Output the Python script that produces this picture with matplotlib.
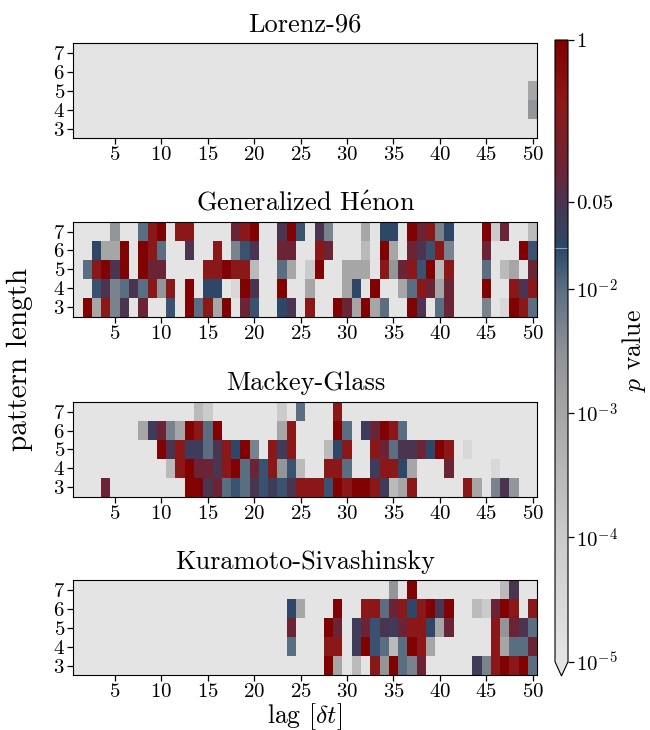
import numpy as np
import matplotlib
matplotlib.use("Agg")
import matplotlib.pyplot as plt
from matplotlib.colors import LinearSegmentedColormap, LogNorm

plt.rcParams["font.family"] = "cmr10"
plt.rcParams["mathtext.fontset"] = "cm"
plt.rcParams["axes.formatter.use_mathtext"] = True

lags = np.arange(1, 51)
pattern_lengths = [3, 4, 5, 6, 7]

# colour codes -> p value ('.' is below 1e-5)
p_levels = {
    ".": 1e-6, "v": 3e-5, "l": 1e-4, "k": 3e-4, "g": 1e-3, "G": 2.5e-3,
    "q": 5e-3, "s": 1e-2, "b": 1.7e-2, "B": 2.2e-2, "n": 3.5e-2,
    "p": 0.05, "m": 0.09, "r": 0.3, "R": 0.9,
}

# one string per pattern length, from 7 (top) down to 3, lag 1..50
lorenz_rows = [
    "." * 50,
    "." * 50,
    "." * 49 + "g",
    "." * 49 + "G",
    "." * 50,
]
henon_rows = [
    "....G..srR.rr....mrR..pRb" + ".pq...g.BB.RmrqB...Rlm..k",
    "..BggR.Rrs..p..r.qbp..mm." + ".rm...k.Rg.mpbrq...m...Rb",
    ".srRpR.Rmm....rrRrrk..sg." + "lR..ggg.rGmrbRkr...s.kg.m",
    "..bpqspsrGr.R.BB.vRp..R.." + "g...gB.R..gsrmgm...R..rpr",
    ".Rgrqp.m..b.RsrgR.mb..Bp." + "r..RmgRgs..Rp.sm...q.vRrs",
]
mackey_rows = [
    ".............kl.......l.s" + "...r.....................",
    ".......gnmqgRrsR......gr." + "...Rs.nmRrs..............",
    ".........RprnnsprBRq.rnr." + "..kBr..rmsppmBRr.v.......",
    "..........krRmmprRsmbrGbk" + "..rrs..nrrBg...m....v....",
    "...m........RRpmsbspbnbpr" + "rrbRrRRrnkgr.....rg.qpG..",
]
kuramoto_rows = [
    "." * 25 + ".........G.R.........kp..",
    "." * 23 + "Bg" + "...R..rrsmrBrRpR..klmRr.r",
    "." * 23 + "m." + "..Rm.nmbpnmrrBgm....rGmps",
    "." * 23 + "s." + "..rr.nRbsksRrg......rgssm",
    "." * 25 + "..Rg.k.rGRsqm.....nqrRrRs",
]

titles = ["Lorenz-96", r"Generalized H$\mathrm{\'e}$non",
          "Mackey-Glass", "Kuramoto-Sivashinsky"]
panels = [lorenz_rows, henon_rows, mackey_rows, kuramoto_rows]

cmap = LinearSegmentedColormap.from_list("pval", [
    (0.0, "#e4e4e4"), (0.2, "#cbcbcb"), (0.4, "#a6a6a6"), (0.5, "#8e9196"),
    (0.6, "#5a6e82"), (0.665, "#2c4868"), (0.74, "#4a3450"),
    (0.79, "#6a2436"), (0.9, "#8c1818"), (1.0, "#7f0000"),
])
cmap.set_under("#e4e4e4")
norm = LogNorm(vmin=1e-5, vmax=1)

fig = plt.figure(figsize=(6.5, 7.3), dpi=100)
bottoms = [0.8110, 0.5662, 0.3196, 0.0753]
x_edges = np.arange(0.5, 51.5, 1)
y_edges = np.arange(2.5, 8.5, 1)

for rows, title, bottom in zip(panels, titles, bottoms):
    ax = fig.add_axes([0.1128, bottom, 0.7138, 0.1295])
    values = np.array([[p_levels[c] for c in row] for row in rows[::-1]])
    mesh = ax.pcolormesh(x_edges, y_edges, values, cmap=cmap, norm=norm)
    ax.set_xlim(0.5, 50.5)
    ax.set_ylim(2.5, 7.5)
    ax.set_xticks(range(5, 51, 5))
    ax.set_yticks(pattern_lengths)
    ax.tick_params(labelsize=15, length=4, width=0.9, pad=2)
    ax.set_title(title, fontsize=19, pad=8.5)

fig.text(0.031, 0.507, "pattern length", rotation=90, fontsize=21,
         ha="center", va="center")
fig.text(0.469, 0.019, r"lag [$\delta t$]", fontsize=18.5, ha="center", va="center")

cax = fig.add_axes([555 / 650, 54 / 730, 13 / 650, 636 / 730])
cbar = fig.colorbar(mesh, cax=cax, extend="min", extendfrac=0.023)
cbar.ax.minorticks_off()
cbar.set_ticks([1e-5, 1e-4, 1e-3, 1e-2, 0.05, 1])
cbar.set_ticklabels([r"$10^{-5}$", r"$10^{-4}$", r"$10^{-3}$", r"$10^{-2}$",
                     "0.05", "1"])
cbar.ax.axhline(0.0214, color="#8ea2b6", lw=0.8)
cbar.ax.tick_params(labelsize=15, length=4, width=0.9, pad=2)
cbar.set_label(r"$p$ value", fontsize=18.5, labelpad=1)

fig.savefig("out.png", dpi=100)
